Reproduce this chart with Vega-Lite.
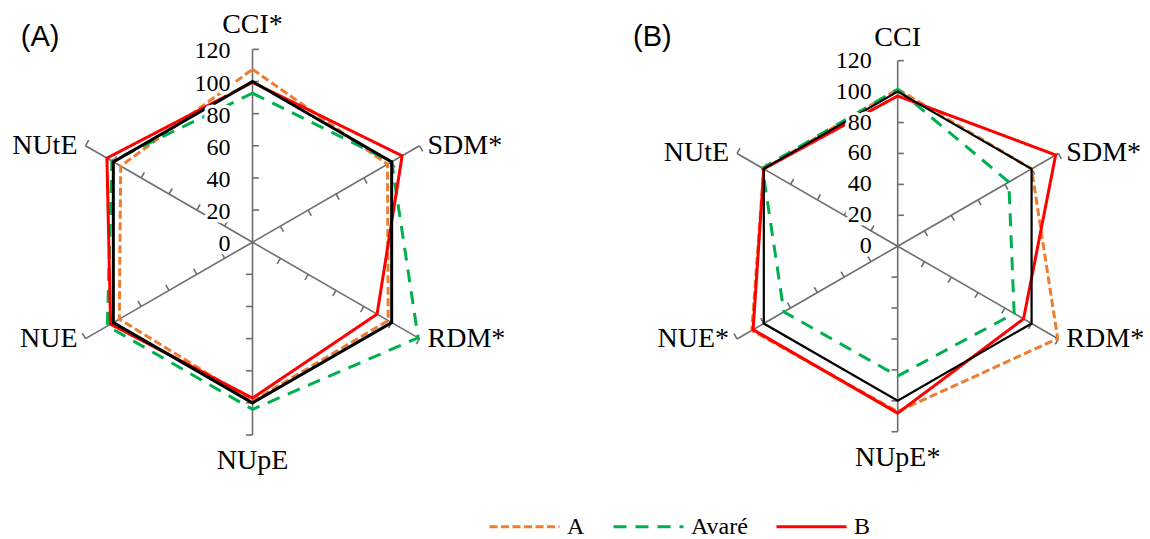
{
  "$schema": "https://vega.github.io/schema/vega-lite/v6.json",
  "padding": 0,
  "spacing": 0,
  "background": "white",
  "config": {
    "view": {"stroke": null}
  },
  "datasets": {
    "series": [
      {"panel": "A", "series": "A", "axis": "CCI", "idx": 0, "value": 107.6},
      {"panel": "A", "series": "A", "axis": "SDM", "idx": 1, "value": 97},
      {"panel": "A", "series": "A", "axis": "RDM", "idx": 2, "value": 97.5},
      {"panel": "A", "series": "A", "axis": "NUpE", "idx": 3, "value": 99},
      {"panel": "A", "series": "A", "axis": "NUE", "idx": 4, "value": 95.7},
      {"panel": "A", "series": "A", "axis": "NUtE", "idx": 5, "value": 94.7},
      {"panel": "A", "series": "Avaré", "axis": "CCI", "idx": 0, "value": 92.7},
      {"panel": "A", "series": "Avaré", "axis": "SDM", "idx": 1, "value": 100},
      {"panel": "A", "series": "Avaré", "axis": "RDM", "idx": 2, "value": 119},
      {"panel": "A", "series": "Avaré", "axis": "NUpE", "idx": 3, "value": 104},
      {"panel": "A", "series": "Avaré", "axis": "NUE", "idx": 4, "value": 104.3},
      {"panel": "A", "series": "Avaré", "axis": "NUtE", "idx": 5, "value": 101},
      {"panel": "A", "series": "B", "axis": "CCI", "idx": 0, "value": 99.5},
      {"panel": "A", "series": "B", "axis": "SDM", "idx": 1, "value": 107.5},
      {"panel": "A", "series": "B", "axis": "RDM", "idx": 2, "value": 89.5},
      {"panel": "A", "series": "B", "axis": "NUpE", "idx": 3, "value": 97},
      {"panel": "A", "series": "B", "axis": "NUE", "idx": 4, "value": 102},
      {"panel": "A", "series": "B", "axis": "NUtE", "idx": 5, "value": 104.6},
      {"panel": "A", "series": "Ctrl", "axis": "CCI", "idx": 0, "value": 100},
      {"panel": "A", "series": "Ctrl", "axis": "SDM", "idx": 1, "value": 100},
      {"panel": "A", "series": "Ctrl", "axis": "RDM", "idx": 2, "value": 100},
      {"panel": "A", "series": "Ctrl", "axis": "NUpE", "idx": 3, "value": 100},
      {"panel": "A", "series": "Ctrl", "axis": "NUE", "idx": 4, "value": 100},
      {"panel": "A", "series": "Ctrl", "axis": "NUtE", "idx": 5, "value": 100},
      {"panel": "B", "series": "A", "axis": "CCI", "idx": 0, "value": 101.5},
      {"panel": "B", "series": "A", "axis": "SDM", "idx": 1, "value": 100},
      {"panel": "B", "series": "A", "axis": "RDM", "idx": 2, "value": 119.5},
      {"panel": "B", "series": "A", "axis": "NUpE", "idx": 3, "value": 107},
      {"panel": "B", "series": "A", "axis": "NUE", "idx": 4, "value": 109},
      {"panel": "B", "series": "A", "axis": "NUtE", "idx": 5, "value": 100},
      {"panel": "B", "series": "Avaré", "axis": "CCI", "idx": 0, "value": 101.5},
      {"panel": "B", "series": "Avaré", "axis": "SDM", "idx": 1, "value": 83},
      {"panel": "B", "series": "Avaré", "axis": "RDM", "idx": 2, "value": 87},
      {"panel": "B", "series": "Avaré", "axis": "NUpE", "idx": 3, "value": 84},
      {"panel": "B", "series": "Avaré", "axis": "NUE", "idx": 4, "value": 85},
      {"panel": "B", "series": "Avaré", "axis": "NUtE", "idx": 5, "value": 101},
      {"panel": "B", "series": "B", "axis": "CCI", "idx": 0, "value": 97.2},
      {"panel": "B", "series": "B", "axis": "SDM", "idx": 1, "value": 118},
      {"panel": "B", "series": "B", "axis": "RDM", "idx": 2, "value": 94},
      {"panel": "B", "series": "B", "axis": "NUpE", "idx": 3, "value": 108},
      {"panel": "B", "series": "B", "axis": "NUE", "idx": 4, "value": 108},
      {"panel": "B", "series": "B", "axis": "NUtE", "idx": 5, "value": 100},
      {"panel": "B", "series": "Ctrl", "axis": "CCI", "idx": 0, "value": 100},
      {"panel": "B", "series": "Ctrl", "axis": "SDM", "idx": 1, "value": 100},
      {"panel": "B", "series": "Ctrl", "axis": "RDM", "idx": 2, "value": 100},
      {"panel": "B", "series": "Ctrl", "axis": "NUpE", "idx": 3, "value": 100},
      {"panel": "B", "series": "Ctrl", "axis": "NUE", "idx": 4, "value": 100},
      {"panel": "B", "series": "Ctrl", "axis": "NUtE", "idx": 5, "value": 100}
    ],
    "spokes": [
      {"panel": "A", "idx": 0, "name": "CCI*", "ticks": [20, 40, 60, 80, 100, 120]},
      {"panel": "A", "idx": 1, "name": "SDM*", "ticks": [20, 40, 60, 80, 100, 120]},
      {"panel": "A", "idx": 2, "name": "RDM*", "ticks": [20, 40, 60, 80, 100, 120]},
      {"panel": "A", "idx": 3, "name": "NUpE", "ticks": [20, 40, 60, 80, 100, 120]},
      {"panel": "A", "idx": 4, "name": "NUE", "ticks": [20, 40, 60, 80, 100, 120]},
      {"panel": "A", "idx": 5, "name": "NUtE", "ticks": [20, 40, 60, 80, 100, 120]},
      {"panel": "B", "idx": 0, "name": "CCI", "ticks": [20, 40, 60, 80, 100, 120]},
      {"panel": "B", "idx": 1, "name": "SDM*", "ticks": [20, 40, 60, 80, 100, 120]},
      {"panel": "B", "idx": 2, "name": "RDM*", "ticks": [20, 40, 60, 80, 100, 120]},
      {"panel": "B", "idx": 3, "name": "NUpE*", "ticks": [20, 40, 60, 80, 100, 120]},
      {"panel": "B", "idx": 4, "name": "NUE*", "ticks": [20, 40, 60, 80, 100, 120]},
      {"panel": "B", "idx": 5, "name": "NUtE", "ticks": [20, 40, 60, 80, 100, 120]}
    ],
    "scale": [{"v": 0}, {"v": 20}, {"v": 40}, {"v": 60}, {"v": 80}, {"v": 100}, {"v": 120}],
    "panels": [{"panel": "A", "tag": "(A)"}, {"panel": "B", "tag": "(B)"}]
  },
  "hconcat": [
    {
      "width": 575,
      "height": 539,
      "encoding": {
        "x": {"field": "px", "type": "quantitative", "scale": {"domain": [-157.13, 200.68], "nice": false, "zero": false}, "axis": null},
        "y": {"field": "py", "type": "quantitative", "scale": {"domain": [-184.69, 150.72], "nice": false, "zero": false}, "axis": null}
      },
      "layer": [
        {
          "data": {"name": "spokes"},
          "transform": [
            {"filter": "datum.panel === 'A'"},
            {"calculate": "datum.idx * PI / 3", "as": "t"},
            {"calculate": "120 * sin(datum.t)", "as": "px"},
            {"calculate": "120 * cos(datum.t)", "as": "py"},
            {"calculate": "0", "as": "ox"},
            {"calculate": "0", "as": "oy"}
          ],
          "mark": {"type": "rule", "color": "#6e6e6e", "strokeWidth": 1.6},
          "encoding": {"x2": {"field": "ox"}, "y2": {"field": "oy"}}
        },
        {
          "data": {"name": "spokes"},
          "transform": [
            {"filter": "datum.panel === 'A'"},
            {"flatten": ["ticks"]},
            {"calculate": "datum.idx * PI / 3", "as": "t"},
            {"calculate": "datum.ticks * sin(datum.t)", "as": "px"},
            {"calculate": "datum.ticks * cos(datum.t)", "as": "py"},
            {"calculate": "datum.px + 4 * cos(datum.t)", "as": "qx"},
            {"calculate": "datum.py - 4 * sin(datum.t)", "as": "qy"}
          ],
          "mark": {"type": "rule", "color": "#6e6e6e", "strokeWidth": 1.6},
          "encoding": {"x2": {"field": "qx"}, "y2": {"field": "qy"}}
        },
        {
          "data": {"name": "series"},
          "transform": [
            {"filter": "datum.panel === 'A' && datum.series !== 'Ctrl'"},
            {"calculate": "datum.idx * PI / 3", "as": "t"},
            {"calculate": "datum.value * sin(datum.t)", "as": "px"},
            {"calculate": "datum.value * cos(datum.t)", "as": "py"}
          ],
          "mark": {"type": "line", "interpolate": "linear-closed", "strokeWidth": 3},
          "encoding": {
            "order": {"field": "idx", "type": "quantitative"},
            "color": {
              "field": "series", "type": "nominal",
              "scale": {"domain": ["A", "Avaré", "B"], "range": ["#ED7D31", "#00B050", "#FF0000"]},
              "legend": {"title": null, "orient": "none", "legendX": 488, "legendY": 490, "direction": "horizontal", "symbolType": "stroke", "symbolSize": 4900, "symbolStrokeWidth": 3, "labelFont": "Liberation Serif", "labelFontSize": 24, "labelColor": "black", "labelOffset": 6, "columnPadding": 22}
            },
            "strokeDash": {
              "field": "series", "type": "nominal",
              "scale": {"domain": ["A", "Avaré", "B"], "range": [[8, 3.5], [13, 9], [1, 0]]},
              "legend": {"title": null, "orient": "none", "legendX": 488, "legendY": 490, "direction": "horizontal", "symbolType": "stroke", "symbolSize": 4900, "symbolStrokeWidth": 3, "labelFont": "Liberation Serif", "labelFontSize": 24, "labelColor": "black", "labelOffset": 6, "columnPadding": 22}
            }
          }
        },
        {
          "data": {"name": "series"},
          "transform": [
            {"filter": "datum.panel === 'A' && datum.series === 'Ctrl'"},
            {"calculate": "datum.idx * PI / 3", "as": "t"},
            {"calculate": "datum.value * sin(datum.t)", "as": "px"},
            {"calculate": "datum.value * cos(datum.t)", "as": "py"}
          ],
          "mark": {"type": "line", "interpolate": "linear-closed", "strokeWidth": 3, "color": "black"},
          "encoding": {"order": {"field": "idx", "type": "quantitative"}}
        },
        {
          "data": {"name": "scale"},
          "transform": [{"calculate": "0", "as": "px"}, {"calculate": "datum.v", "as": "py"}],
          "mark": {"type": "text", "align": "right", "baseline": "middle", "dx": -22, "dy": 2, "font": "Liberation Serif", "fontSize": 24, "fill": "white", "stroke": "white", "strokeWidth": 7},
          "encoding": {"text": {"field": "v", "type": "quantitative"}}
        },
        {
          "data": {"name": "scale"},
          "transform": [{"calculate": "0", "as": "px"}, {"calculate": "datum.v", "as": "py"}],
          "mark": {"type": "text", "align": "right", "baseline": "middle", "dx": -22, "dy": 2, "font": "Liberation Serif", "fontSize": 24, "color": "black"},
          "encoding": {"text": {"field": "v", "type": "quantitative"}}
        },
        {
          "data": {"name": "spokes"},
          "transform": [
            {"filter": "datum.panel === 'A' && datum.idx === 0"},
            {"calculate": "0", "as": "px"}, {"calculate": "120", "as": "py"}
          ],
          "mark": {"type": "text", "align": "center", "baseline": "middle", "dy": -24, "font": "Liberation Serif", "fontSize": 28, "color": "black"},
          "encoding": {"text": {"field": "name"}}
        },
        {
          "data": {"name": "spokes"},
          "transform": [
            {"filter": "datum.panel === 'A' && datum.idx === 3"},
            {"calculate": "0", "as": "px"}, {"calculate": "-120", "as": "py"}
          ],
          "mark": {"type": "text", "align": "center", "baseline": "middle", "dy": 26, "font": "Liberation Serif", "fontSize": 28, "color": "black"},
          "encoding": {"text": {"field": "name"}}
        },
        {
          "data": {"name": "spokes"},
          "transform": [
            {"filter": "datum.panel === 'A' && (datum.idx === 1 || datum.idx === 2)"},
            {"calculate": "datum.idx * PI / 3", "as": "t"},
            {"calculate": "120 * sin(datum.t)", "as": "px"},
            {"calculate": "120 * cos(datum.t)", "as": "py"}
          ],
          "mark": {"type": "text", "align": "left", "baseline": "middle", "dx": 8, "font": "Liberation Serif", "fontSize": 28, "color": "black"},
          "encoding": {"text": {"field": "name"}}
        },
        {
          "data": {"name": "spokes"},
          "transform": [
            {"filter": "datum.panel === 'A' && (datum.idx === 4 || datum.idx === 5)"},
            {"calculate": "datum.idx * PI / 3", "as": "t"},
            {"calculate": "120 * sin(datum.t)", "as": "px"},
            {"calculate": "120 * cos(datum.t)", "as": "py"}
          ],
          "mark": {"type": "text", "align": "right", "baseline": "middle", "dx": -8, "font": "Liberation Serif", "fontSize": 28, "color": "black"},
          "encoding": {"text": {"field": "name"}}
        },
        {
          "data": {"name": "panels"},
          "transform": [
            {"filter": "datum.panel === 'A'"},
            {"calculate": "-144.2", "as": "px"},
            {"calculate": "127.9", "as": "py"}
          ],
          "mark": {"type": "text", "align": "left", "baseline": "middle", "font": "Liberation Sans", "fontSize": 29, "color": "black"},
          "encoding": {"text": {"field": "tag"}}
        }
      ]
    },
    {
      "width": 575,
      "height": 539,
      "encoding": {
        "x": {"field": "px", "type": "quantitative", "scale": {"domain": [-208.73, 163.2], "nice": false, "zero": false}, "axis": null},
        "y": {"field": "py", "type": "quantitative", "scale": {"domain": [-189.39, 159.25], "nice": false, "zero": false}, "axis": null}
      },
      "layer": [
        {
          "data": {"name": "spokes"},
          "transform": [
            {"filter": "datum.panel === 'B'"},
            {"calculate": "datum.idx * PI / 3", "as": "t"},
            {"calculate": "120 * sin(datum.t)", "as": "px"},
            {"calculate": "120 * cos(datum.t)", "as": "py"},
            {"calculate": "0", "as": "ox"},
            {"calculate": "0", "as": "oy"}
          ],
          "mark": {"type": "rule", "color": "#6e6e6e", "strokeWidth": 1.6},
          "encoding": {"x2": {"field": "ox"}, "y2": {"field": "oy"}}
        },
        {
          "data": {"name": "spokes"},
          "transform": [
            {"filter": "datum.panel === 'B'"},
            {"flatten": ["ticks"]},
            {"calculate": "datum.idx * PI / 3", "as": "t"},
            {"calculate": "datum.ticks * sin(datum.t)", "as": "px"},
            {"calculate": "datum.ticks * cos(datum.t)", "as": "py"},
            {"calculate": "datum.px + 4 * cos(datum.t)", "as": "qx"},
            {"calculate": "datum.py - 4 * sin(datum.t)", "as": "qy"}
          ],
          "mark": {"type": "rule", "color": "#6e6e6e", "strokeWidth": 1.6},
          "encoding": {"x2": {"field": "qx"}, "y2": {"field": "qy"}}
        },
        {
          "data": {"name": "series"},
          "transform": [
            {"filter": "datum.panel === 'B' && datum.series !== 'Ctrl'"},
            {"calculate": "datum.idx * PI / 3", "as": "t"},
            {"calculate": "datum.value * sin(datum.t)", "as": "px"},
            {"calculate": "datum.value * cos(datum.t)", "as": "py"}
          ],
          "mark": {"type": "line", "interpolate": "linear-closed", "strokeWidth": 3},
          "encoding": {
            "order": {"field": "idx", "type": "quantitative"},
            "color": {
              "field": "series", "type": "nominal",
              "scale": {"domain": ["A", "Avaré", "B"], "range": ["#ED7D31", "#00B050", "#FF0000"]},
              "legend": {"title": null, "orient": "none", "legendX": 488, "legendY": 490, "direction": "horizontal", "symbolType": "stroke", "symbolSize": 4900, "symbolStrokeWidth": 3, "labelFont": "Liberation Serif", "labelFontSize": 24, "labelColor": "black", "labelOffset": 6, "columnPadding": 22}
            },
            "strokeDash": {
              "field": "series", "type": "nominal",
              "scale": {"domain": ["A", "Avaré", "B"], "range": [[8, 3.5], [13, 9], [1, 0]]},
              "legend": {"title": null, "orient": "none", "legendX": 488, "legendY": 490, "direction": "horizontal", "symbolType": "stroke", "symbolSize": 4900, "symbolStrokeWidth": 3, "labelFont": "Liberation Serif", "labelFontSize": 24, "labelColor": "black", "labelOffset": 6, "columnPadding": 22}
            }
          }
        },
        {
          "data": {"name": "series"},
          "transform": [
            {"filter": "datum.panel === 'B' && datum.series === 'Ctrl'"},
            {"calculate": "datum.idx * PI / 3", "as": "t"},
            {"calculate": "datum.value * sin(datum.t)", "as": "px"},
            {"calculate": "datum.value * cos(datum.t)", "as": "py"}
          ],
          "mark": {"type": "line", "interpolate": "linear-closed", "strokeWidth": 2.2, "color": "black"},
          "encoding": {"order": {"field": "idx", "type": "quantitative"}}
        },
        {
          "data": {"name": "scale"},
          "transform": [{"calculate": "0", "as": "px"}, {"calculate": "datum.v", "as": "py"}],
          "mark": {"type": "text", "align": "right", "baseline": "middle", "dx": -26, "dy": 0, "font": "Liberation Serif", "fontSize": 24, "fill": "white", "stroke": "white", "strokeWidth": 7},
          "encoding": {"text": {"field": "v", "type": "quantitative"}}
        },
        {
          "data": {"name": "scale"},
          "transform": [{"calculate": "0", "as": "px"}, {"calculate": "datum.v", "as": "py"}],
          "mark": {"type": "text", "align": "right", "baseline": "middle", "dx": -26, "dy": 0, "font": "Liberation Serif", "fontSize": 24, "color": "black"},
          "encoding": {"text": {"field": "v", "type": "quantitative"}}
        },
        {
          "data": {"name": "spokes"},
          "transform": [
            {"filter": "datum.panel === 'B' && datum.idx === 0"},
            {"calculate": "0", "as": "px"}, {"calculate": "120", "as": "py"}
          ],
          "mark": {"type": "text", "align": "center", "baseline": "middle", "dy": -23, "font": "Liberation Serif", "fontSize": 28, "color": "black"},
          "encoding": {"text": {"field": "name"}}
        },
        {
          "data": {"name": "spokes"},
          "transform": [
            {"filter": "datum.panel === 'B' && datum.idx === 3"},
            {"calculate": "0", "as": "px"}, {"calculate": "-120", "as": "py"}
          ],
          "mark": {"type": "text", "align": "center", "baseline": "middle", "dy": 26, "font": "Liberation Serif", "fontSize": 28, "color": "black"},
          "encoding": {"text": {"field": "name"}}
        },
        {
          "data": {"name": "spokes"},
          "transform": [
            {"filter": "datum.panel === 'B' && (datum.idx === 1 || datum.idx === 2)"},
            {"calculate": "datum.idx * PI / 3", "as": "t"},
            {"calculate": "120 * sin(datum.t)", "as": "px"},
            {"calculate": "120 * cos(datum.t)", "as": "py"}
          ],
          "mark": {"type": "text", "align": "left", "baseline": "middle", "dx": 8, "font": "Liberation Serif", "fontSize": 28, "color": "black"},
          "encoding": {"text": {"field": "name"}}
        },
        {
          "data": {"name": "spokes"},
          "transform": [
            {"filter": "datum.panel === 'B' && (datum.idx === 4 || datum.idx === 5)"},
            {"calculate": "datum.idx * PI / 3", "as": "t"},
            {"calculate": "120 * sin(datum.t)", "as": "px"},
            {"calculate": "120 * cos(datum.t)", "as": "py"}
          ],
          "mark": {"type": "text", "align": "right", "baseline": "middle", "dx": -8, "font": "Liberation Serif", "fontSize": 28, "color": "black"},
          "encoding": {"text": {"field": "name"}}
        },
        {
          "data": {"name": "panels"},
          "transform": [
            {"filter": "datum.panel === 'B'"},
            {"calculate": "-171.2", "as": "px"},
            {"calculate": "135.5", "as": "py"}
          ],
          "mark": {"type": "text", "align": "left", "baseline": "middle", "font": "Liberation Sans", "fontSize": 29, "color": "black"},
          "encoding": {"text": {"field": "tag"}}
        }
      ]
    }
  ]
}
